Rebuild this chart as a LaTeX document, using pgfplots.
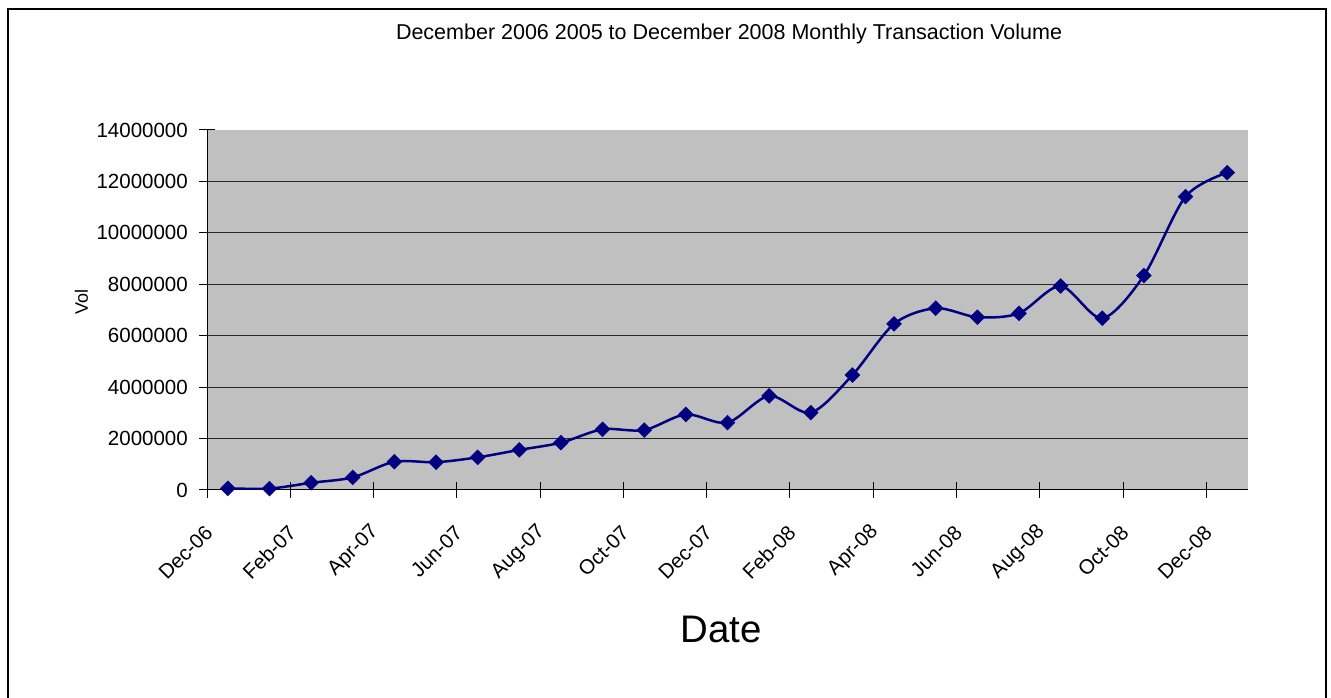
\documentclass[border=0pt]{standalone}
\usepackage{fontspec}
\setmainfont{Liberation Sans}
\usepackage{pgfplots}
\pgfplotsset{compat=1.18}
\definecolor{plotgray}{RGB}{192,192,192}
\definecolor{navyline}{RGB}{0,0,128}
\begin{document}
\begin{tikzpicture}
\path[use as bounding box] (0,0) rectangle (1331pt,698pt);
\draw[line width=1.5pt] (8pt,-10pt) -- (8pt,689pt) -- (1326pt,689pt) -- (1326pt,-10pt);
\begin{axis}[
  at={(207pt,208pt)}, anchor=south west,
  scale only axis, width=1041pt, height=360pt,
  xmin=-0.5, xmax=24.5, ymin=0, ymax=14000000,
  scaled y ticks=false,
  axis lines*=left,
  axis line style={line width=1pt, black},
  axis background/.style={fill=plotgray},
  tick align=center, major tick length=16pt,
  tick style={line width=1pt, black},
  xtick={-0.5,1.5,3.5,5.5,7.5,9.5,11.5,13.5,15.5,17.5,19.5,21.5,23.5},
  xticklabels={Dec-06,Feb-07,Apr-07,Jun-07,Aug-07,Oct-07,Dec-07,Feb-08,Apr-08,Jun-08,Aug-08,Oct-08,Dec-08},
  ytick={0,2000000,4000000,6000000,8000000,10000000,12000000,14000000},
  yticklabels={0,2000000,4000000,6000000,8000000,10000000,12000000,14000000},
  extra y ticks={2000000,4000000,6000000,8000000,10000000,12000000},
  extra y tick labels={},
  extra y tick style={grid=major, major tick length=0pt},
  grid style={line width=1pt, black!85},
  xticklabel style={font=\fontsize{20.5}{24}\selectfont, inner sep=0pt, xshift=2pt, yshift=-31pt, anchor=east, rotate=45},
  yticklabel style={font=\fontsize{20.5}{24}\selectfont, inner sep=0pt, anchor=east, xshift=-11pt},
  title={December 2006 2005 to December 2008 Monthly Transaction Volume},
  title style={font=\fontsize{21.5}{24}\selectfont, at={(axis description cs:0.5015,1.236)}, anchor=base, inner sep=0pt},
  xlabel={Date},
  xlabel style={font=\fontsize{38.4}{44}\selectfont, at={(axis description cs:0.494,-0.424)}, anchor=base, inner sep=0pt},
  ylabel={Vol},
  ylabel style={font=\fontsize{18}{22}\selectfont, at={(axis description cs:-0.1206,0.522)}, anchor=center, rotate=0, inner sep=0pt},
  clip mode=individual,
]
\addplot[navyline, line width=2.5pt, smooth, tension=0.5,
  mark=square*, mark size=5.2pt,
  mark options={rotate=45, fill=navyline, draw=navyline, line width=0.6pt, solid}]
coordinates {
(0,65000) (1,55000) (2,280000) (3,490000) (4,1100000) (5,1080000)
(6,1270000) (7,1560000) (8,1840000) (9,2360000) (10,2330000) (11,2940000)
(12,2620000) (13,3660000) (14,3010000) (15,4470000) (16,6460000) (17,7070000)
(18,6720000) (19,6870000) (20,7930000) (21,6680000) (22,8340000) (23,11410000)
(24,12340000)
};
\end{axis}
\end{tikzpicture}
\end{document}
